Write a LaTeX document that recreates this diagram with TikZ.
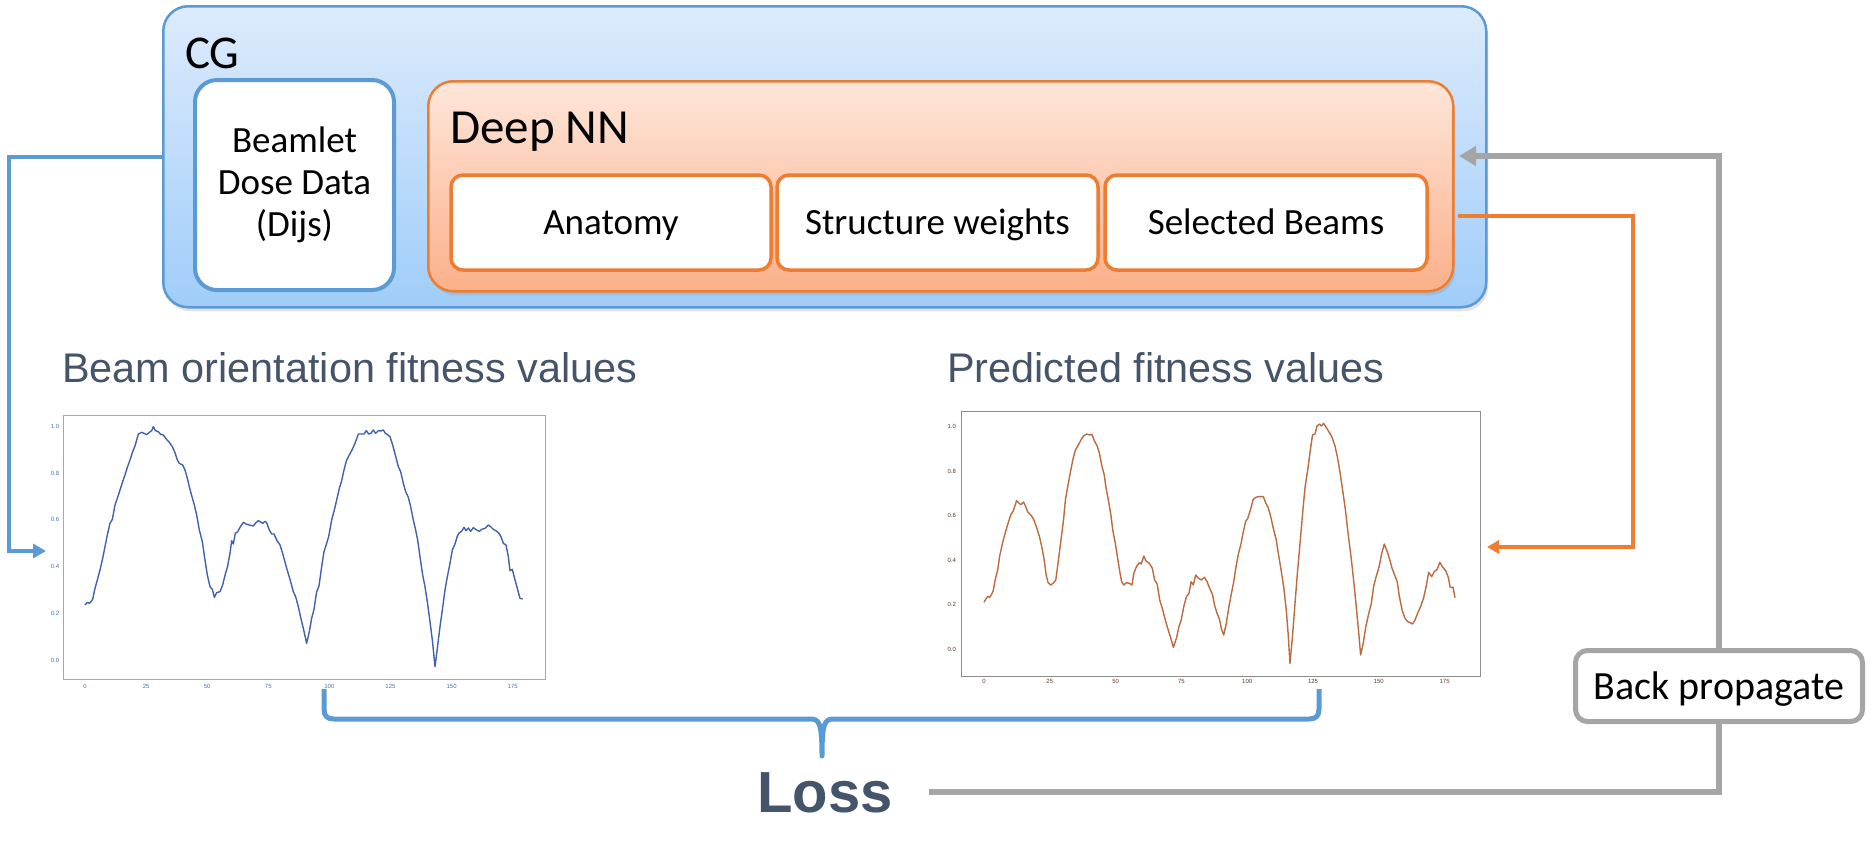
\documentclass[tikz,border=0pt]{standalone}
\usepackage{fontspec}
\setmainfont{Carlito}
\newfontfamily\arialf{Liberation Sans}
\usetikzlibrary{arrows.meta,shadows}
\definecolor{cgblue}{HTML}{5B9BD5}
\definecolor{cgtop}{HTML}{DDEBFC}
\definecolor{cgbot}{HTML}{9FCDF9}
\definecolor{nnorange}{HTML}{ED7D31}
\definecolor{nntop}{HTML}{FEE6DA}
\definecolor{nnbot}{HTML}{FBB08A}
\definecolor{slate}{HTML}{44546A}
\definecolor{bpgray}{HTML}{A5A5A5}
\definecolor{curveblue}{HTML}{3F62AB}
\definecolor{curvebrown}{HTML}{BC6A40}
\definecolor{tickblue}{HTML}{4F6FB3}
\definecolor{tickbrown}{HTML}{5E3B26}
\definecolor{axblue}{HTML}{8FAADC}
\definecolor{axgray}{HTML}{8C8C8C}
\tikzset{
  softshadow/.style={drop shadow={opacity=0.22, shadow xshift=2pt, shadow yshift=-4pt}},
  cgbox/.style={draw=cgblue, line width=2.5pt, rounded corners=25pt, top color=cgtop, bottom color=cgbot, softshadow, inner sep=0pt},
  nnbox/.style={draw=nnorange, line width=2.5pt, rounded corners=25pt, top color=nntop, bottom color=nnbot, softshadow, inner sep=0pt},
  dijbox/.style={draw=cgblue, line width=4pt, rounded corners=22pt, fill=white, align=center, inner sep=0pt,
     font=\fontsize{37}{42}\selectfont, minimum width=199pt, minimum height=210pt},
  innerbox/.style={draw=nnorange, line width=3.5pt, rounded corners=12pt, fill=white, inner sep=0pt,
     font=\fontsize{37}{42}\selectfont, text height=24pt, text depth=0pt, minimum height=95pt},
  bpbox/.style={draw=bpgray, line width=5pt, rounded corners=12pt, fill=white, inner sep=0pt,
     font=\fontsize{40}{44}\selectfont, text height=26pt, text depth=0pt, minimum width=287pt, minimum height=71pt},
  biglabel/.style={anchor=base west, inner sep=0pt},
  plottitle/.style={anchor=base west, inner sep=0pt, text=slate, font=\arialf\fontsize{41.4}{46}\selectfont},
  blueline/.style={draw=cgblue, line width=4pt, -{Triangle[length=13pt,width=14pt]}},
  orangeline/.style={draw=nnorange, line width=4pt, -{Triangle[length=12pt,width=13pt]}},
  grayline/.style={draw=bpgray, line width=6pt, -{Triangle[length=17pt,width=19pt]}},
  bluetick/.style={text=tickblue, font=\arialf\fontsize{6}{7}\selectfont, inner sep=0pt},
  browntick/.style={text=tickbrown, font=\arialf\fontsize{6}{7}\selectfont, inner sep=0pt},
}
\begin{document}
\begin{tikzpicture}[x=1pt,y=-1pt]
\useasboundingbox (0,0) rectangle (1875,860);

% CG outer box
\node[cgbox, anchor=north west, minimum width=1323pt, minimum height=301pt] (cg) at (162,5) {};
\node[biglabel, font=\fontsize{47}{50}\selectfont] (cglabel) at (185,68) {CG};
% Beamlet box
\node[dijbox] (dij) at (294.5,185) {Beamlet\\Dose Data\\(Dijs)};
% Deep NN box
\node[nnbox, anchor=north west, minimum width=1025pt, minimum height=210pt] (dnn) at (427,80) {};
\node[biglabel, font=\fontsize{49}{52}\selectfont] (dnnlabel) at (450,143) {Deep NN};
\node[innerbox, minimum width=320pt] (anat) at (611,222.5) {Anatomy};
\node[innerbox, minimum width=321pt] (sw) at (937.5,222.5) {Structure weights};
\node[innerbox, minimum width=322pt] (sb) at (1266,222.5) {Selected Beams};

% titles
\node[plottitle] (t1) at (62,382) {Beam orientation fitness values};
\node[plottitle] (t2) at (947,382) {Predicted fitness values};

% left plot
\node[draw=axblue, line width=1pt, anchor=north west, minimum width=482pt, minimum height=264pt, inner sep=0pt] (p1) at (63,415) {};
\begin{scope}[shift={(40,410)}, scale=0.33333]
\foreach \l [count=\i from 0] in {0,25,50,75,100,125,150,175}
  \node[bluetick] (p1x\i) at (135+183.3*\i,828) {\l};
\foreach \l [count=\i from 0] in {0.0,0.2,0.4,0.6,0.8,1.0}
  \node[bluetick] (p1y\i) at (45,752-140.8*\i) {\l};
\draw[curveblue, line width=1.4pt, line join=round] plot coordinates {
(135,585) (142,577) (148,580) (152,576) (158,568) (165,535) (172,510) (180,480) (188,445) (195,410) (203,370) (210,340) (217,328) (225,285) (233,262) (240,240) (248,215) (255,195) (262,172) (270,150) (278,125) (285,108) (295,72) (305,67) (312,70) (320,74) (328,67) (335,62) (340,50) (346,62) (355,65) (362,73) (370,75) (378,86) (388,97) (398,112) (405,128) (412,150) (418,160) (428,165) (435,180) (442,205) (450,238) (456,260) (463,285) (470,315) (478,360) (487,395) (495,450) (502,495) (510,530) (517,538) (523,562) (530,548) (540,545) (548,525) (556,492) (563,468) (570,430) (575,392) (580,402) (586,370) (593,365) (600,352) (610,337) (618,342) (628,345) (640,348) (648,338) (655,332) (662,336) (668,340) (675,334) (680,338) (688,360) (695,372) (702,372) (710,390) (720,405) (728,430) (736,460) (744,488) (752,515) (760,545) (767,560) (775,590) (782,622) (790,655) (800,700) (808,665) (815,625) (822,598) (830,545) (837,528) (845,470) (852,425) (860,400) (866,380) (875,330) (883,300) (890,270) (898,235) (905,212) (912,180) (920,150) (928,135) (937,118) (945,100) (955,72) (965,72) (972,72) (979,62) (986,72) (993,70) (1000,60) (1007,70) (1015,62) (1022,63) (1030,60) (1036,70) (1044,75) (1050,80) (1058,105) (1066,135) (1075,170) (1082,185) (1090,220) (1097,245) (1105,262) (1112,290) (1120,330) (1127,360) (1133,390) (1140,440) (1148,495) (1155,530) (1162,575) (1170,635) (1177,690) (1185,770) (1192,715) (1200,650) (1207,600) (1215,540) (1222,500) (1230,460) (1237,420) (1245,402) (1252,378) (1258,368) (1265,364) (1272,352) (1278,362) (1285,354) (1292,364) (1300,353) (1310,360) (1318,364) (1325,358) (1335,355) (1345,345) (1352,350) (1360,358) (1368,362) (1377,370) (1383,380) (1390,400) (1398,405) (1405,440) (1410,482) (1417,478) (1425,510) (1432,535) (1440,565) (1448,567)};
\end{scope}

% right plot
\node[draw=axgray, line width=1.2pt, anchor=north west, minimum width=519pt, minimum height=265pt, inner sep=0pt] (p2) at (961,411) {};
\begin{scope}[shift={(910,400)}, xscale=0.36996, yscale=0.33333]
\foreach \l [count=\i from 0] in {0,25,50,75,100,125,150,175}
  \node[browntick] (p2x\i) at (200+177.86*\i,845) {\l};
\foreach \l [count=\i from 0] in {0.0,0.2,0.4,0.6,0.8,1.0}
  \node[browntick] (p2y\i) at (113,747-133.4*\i) {\l};
\draw[curvebrown, line width=1.4pt, line join=round] plot coordinates {
(200,607) (205,597) (210,589) (215,592) (220,584) (225,572) (230,540) (237,510) (242,470) (250,430) (257,400) (265,370) (272,345) (278,335) (283,320) (288,302) (295,310) (300,314) (307,306) (312,318) (318,335) (328,347) (335,360) (343,385) (350,410) (357,445) (363,482) (368,525) (373,547) (380,555) (387,550) (394,540) (400,490) (408,420) (415,360) (420,300) (427,255) (433,220) (440,180) (447,150) (455,135) (463,118) (470,107) (478,102) (485,105) (492,103) (498,122) (506,138) (512,160) (518,195) (525,225) (530,265) (537,305) (543,345) (548,390) (555,430) (562,480) (567,515) (572,545) (578,555) (585,548) (593,550) (600,555) (605,520) (612,500) (620,488) (625,492) (632,468) (638,483) (647,490) (655,505) (661,540) (668,552) (675,600) (682,625) (690,660) (698,690) (705,715) (712,742) (720,715) (727,680) (733,660) (740,620) (747,590) (754,580) (760,545) (766,555) (772,525) (780,535) (788,540) (796,532) (803,545) (810,565) (818,585) (823,615) (830,640) (837,660) (842,688) (848,705) (855,670) (862,620) (868,585) (875,545) (882,495) (888,460) (895,430) (900,400) (907,365) (913,355) (920,330) (927,300) (933,293) (940,290) (947,290) (955,290) (962,310) (968,322) (975,350) (982,385) (990,420) (997,470) (1003,510) (1010,560) (1017,630) (1022,700) (1027,790) (1033,720) (1040,620) (1047,520) (1055,420) (1062,330) (1068,260) (1075,210) (1082,150) (1088,105) (1095,102) (1100,78) (1107,72) (1112,78) (1118,70) (1125,82) (1132,95) (1140,110) (1148,135) (1155,170) (1162,215) (1170,275) (1177,330) (1184,400) (1192,470) (1200,550) (1207,630) (1213,700) (1218,765) (1225,730) (1232,680) (1240,640) (1247,610) (1253,560) (1260,530) (1268,500) (1275,460) (1282,432) (1290,455) (1297,480) (1303,505) (1310,525) (1317,545) (1322,585) (1330,630) (1338,655) (1345,665) (1352,668) (1358,672) (1365,660) (1372,640) (1380,620) (1388,595) (1395,560) (1402,517) (1410,530) (1417,515) (1425,508) (1432,487) (1440,502) (1448,512) (1455,532) (1460,562) (1468,562) (1473,593)};
\end{scope}

% Loss
\node[anchor=base west, inner sep=0pt, text=slate, font=\arialf\bfseries\fontsize{58}{60}\selectfont] (loss) at (757,812) {Loss};

% connector end points
\coordinate (p1in) at (46,551);
\coordinate (nnout) at (1458,216);
\coordinate (p2in) at (1487,547);
\coordinate (nnin) at (1459,156);
\coordinate (bpc) at (1719,686);

% connectors
\draw[blueline] (cg.west) -- ++(-153,0) |- (p1in);
\draw[orangeline] (nnout) -- ++(175,0) |- (p2in);
\draw[grayline, shorten <=36pt] (loss.east) -| (bpc) |- (nnin);

% back propagate box on top of the gray line
\node[bpbox] (bp) at (bpc) {Back propagate};

% brace
\coordinate (brL) at (324,689);
\coordinate (brR) at (1319,689);
\coordinate (brTip) at (822,756);
\draw[cgblue, line width=5pt, line join=round]
  (brL) -- (324,709) .. controls (324,716) and (327,719) .. (334,719)
  -- (810,719) .. controls (819,719) and (822,722) .. (brTip)
  .. controls (822,722) and (825,719) .. (834,719)
  -- (1309,719) .. controls (1316,719) and (1319,716) .. (1319,709) -- (brR);
\end{tikzpicture}
\end{document}
